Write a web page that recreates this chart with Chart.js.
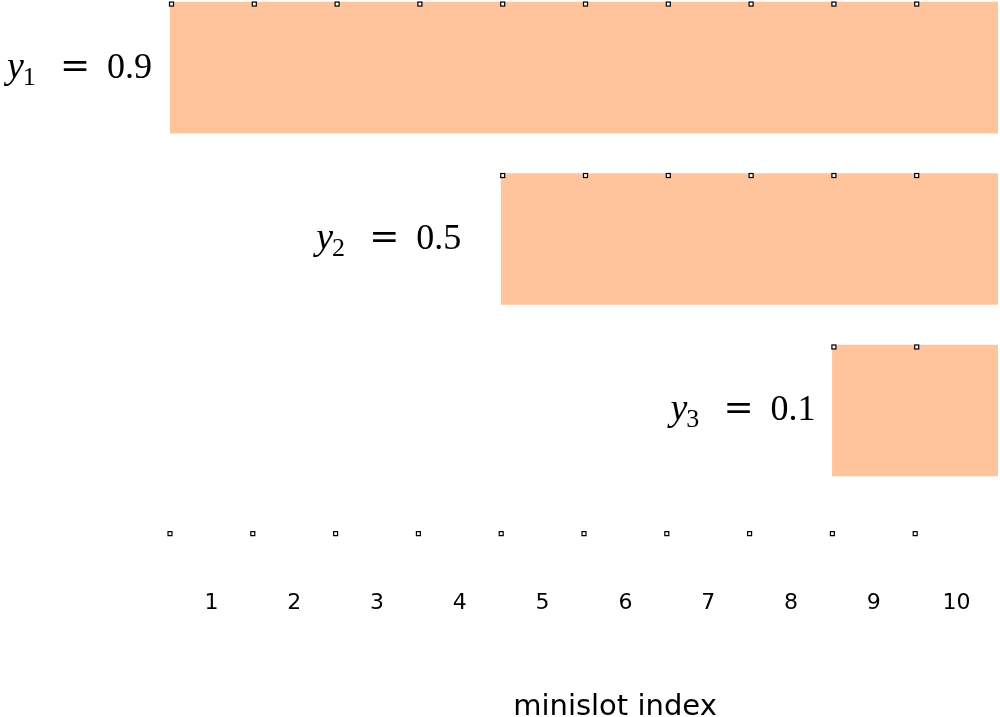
<!DOCTYPE html>
<html>
<head>
<meta charset="utf-8">
<script src="https://cdn.jsdelivr.net/npm/chart.js@4"></script>
<style>
  html, body { margin: 0; padding: 0; background: #fff; overflow: hidden; }
  canvas { display: block; }
</style>
</head>
<body>
<canvas id="c" width="1000" height="717" style="width:1000px;height:717px"></canvas>
<script>
// ---- data ----
const rowNames   = ['1', '2', '3'];          // subscripts of y
const rowValues  = ['0.9', '0.5', '0.1'];    // y_i values
const startSlot  = [1, 5, 9];                // first minislot covered
const endSlot    = [10, 10, 10];             // last minislot covered
const xTicks     = [1, 2, 3, 4, 5, 6, 7, 8, 9, 10];
const axisTitle  = 'minislot index';

// ---- config (layout/style) ----
const Y_MIN = 0.606, Y_MAX = 3.718;
const BAR_COLOR = '#ffc49c';
const labelGap = [18, 40, 17];

const barData = startSlot.map((s, i) => ({ x: [s - 0.5, endSlot[i] + 0.5], y: i + 1 }));
const dotData = xTicks.map(v => ({ x: v - 0.5, y: Y_MAX }));

function drawMarker(ctx, x, y) {
  ctx.save();
  ctx.fillStyle = '#fff';
  ctx.strokeStyle = '#000';
  ctx.lineWidth = 1.2;
  ctx.fillRect(x - 2, y - 2, 4, 4);
  ctx.strokeRect(x - 2, y - 2, 4, 4);
  ctx.restore();
}

const overlay = {
  id: 'overlay',
  afterDatasetsDraw(chart) {
    const ctx = chart.ctx;
    const xs = chart.scales.x;
    const meta = chart.getDatasetMeta(0);
    meta.data.forEach((el, i) => {
      const top = el.y - el.height / 2;
      for (let s = startSlot[i]; s <= endSlot[i]; s++) {
        drawMarker(ctx, xs.getPixelForValue(s - 0.5) + 1.5, top + 2);
      }
      const left = Math.min(el.x, el.base);
      const right = left - labelGap[i];
      const base = el.y + 10;
      ctx.save();
      ctx.fillStyle = '#000';
      ctx.textBaseline = 'alphabetic';
      ctx.font = "36px 'Liberation Serif'";
      const wv = ctx.measureText(rowValues[i]).width;
      const x0 = right - (100 + wv);
      ctx.font = "italic 38px 'Liberation Serif'";
      ctx.fillText('y', x0, base);
      const wy = ctx.measureText('y').width;
      ctx.font = "26px 'Liberation Serif'";
      ctx.fillText(rowNames[i], x0 + wy - 1, base + 7);
      ctx.font = "36px 'DejaVu Serif'";
      ctx.fillText('=', x0 + 53, base - 1);
      ctx.font = "36px 'Liberation Serif'";
      ctx.fillText(rowValues[i], x0 + 100, base);
      ctx.restore();
    });
    ctx.save();
    ctx.fillStyle = '#000';
    ctx.font = "29px 'DejaVu Sans'";
    ctx.textAlign = 'center';
    ctx.textBaseline = 'alphabetic';
    const cx = (chart.chartArea.left + chart.chartArea.right) / 2 + 31;
    ctx.fillText(axisTitle, cx, 715);
    ctx.restore();
  }
};

new Chart(document.getElementById('c'), {
  data: {
    datasets: [
      {
        type: 'bar',
        indexAxis: 'y',
        data: barData,
        backgroundColor: BAR_COLOR,
        borderWidth: 0,
        barThickness: 131,
        grouped: false
      },
      {
        type: 'scatter',
        data: dotData,
        pointStyle: 'rect',
        pointRadius: 2.8,
        pointBorderWidth: 1.2,
        pointBorderColor: '#000',
        pointBackgroundColor: '#fff',
        clip: false
      }
    ]
  },
  options: {
    responsive: false,
    maintainAspectRatio: false,
    devicePixelRatio: 1,
    animation: false,
    events: [],
    layout: { autoPadding: false, padding: { left: 170, right: 2, top: 0, bottom: 45 } },
    plugins: { legend: { display: false }, tooltip: { enabled: false } },
    scales: {
      x: {
        type: 'linear',
        offset: false,
        min: 0.5,
        max: 10.5,
        afterBuildTicks: s => { s.ticks = xTicks.map(v => ({ value: v })); },
        afterFit: s => { s.paddingLeft = 0; s.paddingRight = 0; },
        grid: { display: false, drawTicks: false, offset: false },
        border: { display: false },
        ticks: {
          padding: 56,
          color: '#000',
          font: { family: 'DejaVu Sans', size: 22 },
          maxRotation: 0,
          autoSkip: false
        }
      },
      y: {
        type: 'linear',
        offset: false,
        reverse: true,
        min: Y_MIN,
        max: Y_MAX,
        display: false,
        grid: { offset: false }
      }
    }
  },
  plugins: [overlay]
});
</script>
</body>
</html>
